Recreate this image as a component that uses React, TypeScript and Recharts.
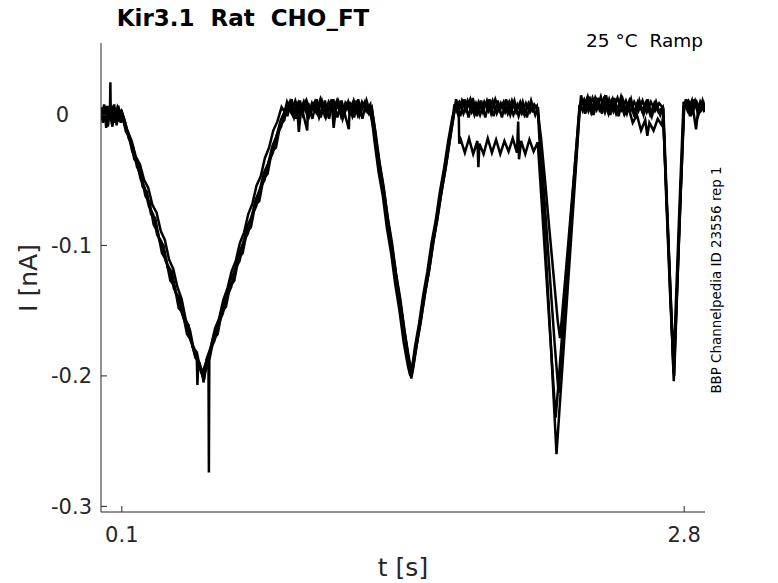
import React from 'react';
import { LineChart, Line, XAxis, YAxis } from 'recharts';

// ─────────────────────────────────────────────
// DATA (t in s, I in nA)
// ─────────────────────────────────────────────

const X_TICKS = [0.1, 2.8];
const Y_TICKS = [0, -0.1, -0.2, -0.3];
const X_DOMAIN: [number, number] = [0, 2.9];
const Y_DOMAIN: [number, number] = [-0.3043, 0.0551];

// sweep 1: upper plateaus, deepest third dip
const SWEEP_1: [number, number][] = [
  [0, 0.001], [0.01, -0.006], [0.02, 0.005], [0.03, -0.004], [0.04, 0.006], [0.043, 0.004], [0.045, 0.025],
  [0.047, -0.002], [0.06, 0.004], [0.07, -0.005], [0.08, 0.006], [0.09, 0.003], [0.1, 0.001],
  [0.12, -0.013], [0.14, -0.018], [0.16, -0.034], [0.18, -0.038], [0.2, -0.055], [0.22, -0.059],
  [0.24, -0.076], [0.26, -0.079], [0.28, -0.096], [0.3, -0.1], [0.32, -0.117], [0.34, -0.12],
  [0.36, -0.137], [0.38, -0.141], [0.4, -0.158], [0.42, -0.161], [0.44, -0.178], [0.46, -0.182],
  [0.48, -0.197], [0.49, -0.201], [0.5, -0.196], [0.51, -0.192], [0.516, -0.19], [0.518, -0.274],
  [0.52, -0.188], [0.54, -0.172], [0.56, -0.168], [0.58, -0.151], [0.6, -0.147], [0.62, -0.131],
  [0.64, -0.127], [0.66, -0.11], [0.68, -0.106], [0.7, -0.09], [0.72, -0.086], [0.74, -0.069],
  [0.76, -0.066], [0.78, -0.049], [0.8, -0.045], [0.82, -0.028], [0.84, -0.025], [0.86, -0.008],
  [0.88, -0.004], [0.89, 0.004],
  [0.9, 0.008], [0.92, 0.0], [0.94, 0.009], [0.95, -0.013], [0.96, 0.003], [0.98, 0.01], [1.0, -0.001],
  [1.02, 0.008], [1.04, 0.001], [1.06, 0.011], [1.08, -0.002], [1.1, 0.007], [1.12, 0.0], [1.14, 0.01],
  [1.16, -0.003], [1.18, 0.008], [1.2, 0.001], [1.22, 0.009], [1.24, -0.001], [1.26, 0.008],
  [1.28, 0.002], [1.3, 0.006],
  [1.32, -0.018], [1.34, -0.04], [1.36, -0.06], [1.38, -0.083], [1.4, -0.104], [1.42, -0.126],
  [1.44, -0.147], [1.46, -0.17], [1.48, -0.19], [1.49, -0.202],
  [1.5, -0.193], [1.52, -0.172], [1.54, -0.153], [1.56, -0.133], [1.58, -0.114], [1.6, -0.093],
  [1.62, -0.074], [1.64, -0.054], [1.66, -0.035], [1.68, -0.014], [1.7, 0.006],
  [1.72, 0.01], [1.74, 0.001], [1.76, 0.011], [1.78, 0.002], [1.8, 0.009], [1.82, 0.0], [1.84, 0.01],
  [1.86, 0.003], [1.88, 0.011], [1.9, 0.001], [1.92, 0.009], [1.94, 0.002], [1.96, 0.01], [1.98, 0.0],
  [2.0, 0.008], [2.02, 0.001], [2.04, 0.009], [2.06, 0.002], [2.08, 0.008], [2.097, 0.004],
  [2.12, -0.06], [2.14, -0.118], [2.16, -0.176], [2.18, -0.238], [2.187, -0.26],
  [2.2, -0.229], [2.22, -0.182], [2.24, -0.135], [2.26, -0.088], [2.28, -0.041], [2.299, 0.006],
  [2.32, 0.012], [2.34, 0.003], [2.36, 0.013], [2.38, 0.004], [2.4, 0.014], [2.42, 0.002], [2.44, 0.012],
  [2.46, 0.003], [2.48, 0.013], [2.5, 0.004], [2.52, 0.011], [2.54, 0.002], [2.56, 0.01], [2.58, 0.003],
  [2.6, 0.011], [2.62, 0.002], [2.64, 0.01], [2.66, 0.003], [2.68, 0.009], [2.7, 0.005],
  [2.72, -0.078], [2.74, -0.16], [2.75, -0.204], [2.76, -0.16], [2.78, -0.075], [2.8, 0.008],
  [2.82, 0.011], [2.84, 0.002], [2.86, 0.01], [2.88, 0.003], [2.9, 0.008],
];

// sweep 2: drops to the lower plateau after the second rise
const SWEEP_2: [number, number][] = [
  [0.007, -0.004], [0.017, 0.006], [0.027, -0.008], [0.037, 0.005], [0.047, -0.002], [0.057, 0.007],
  [0.067, -0.006], [0.077, 0.004], [0.087, -0.005], [0.097, 0.004], [0.105, 0.0],
  [0.127, -0.012], [0.147, -0.02], [0.167, -0.032], [0.187, -0.038], [0.207, -0.05], [0.227, -0.056],
  [0.247, -0.069], [0.267, -0.075], [0.287, -0.089], [0.307, -0.096], [0.327, -0.111], [0.347, -0.118],
  [0.367, -0.132], [0.387, -0.141], [0.407, -0.157], [0.427, -0.165], [0.447, -0.181], [0.46, -0.187],
  [0.463, -0.207], [0.467, -0.189], [0.48, -0.196], [0.497, -0.2],
  [0.507, -0.187], [0.527, -0.178], [0.547, -0.164], [0.567, -0.156], [0.587, -0.142], [0.607, -0.133],
  [0.627, -0.12], [0.647, -0.112], [0.667, -0.098], [0.687, -0.09], [0.707, -0.076], [0.727, -0.068],
  [0.747, -0.054], [0.767, -0.047], [0.787, -0.033], [0.807, -0.025], [0.827, -0.012], [0.847, -0.005],
  [0.867, 0.006], [0.887, 0.001], [0.907, 0.01], [0.927, -0.002], [0.947, 0.009], [0.967, 0.0],
  [0.987, 0.011], [1.007, 0.002], [1.027, 0.01], [1.047, -0.002], [1.067, 0.008], [1.087, 0.001],
  [1.107, 0.012], [1.117, -0.01], [1.127, 0.004], [1.147, 0.009], [1.167, 0.0], [1.187, 0.01],
  [1.207, -0.001], [1.227, 0.009], [1.247, 0.002], [1.267, 0.01], [1.287, 0.001], [1.3, 0.005],
  [1.317, -0.012], [1.337, -0.036], [1.357, -0.055], [1.377, -0.079], [1.397, -0.098], [1.417, -0.122],
  [1.437, -0.141], [1.457, -0.165], [1.477, -0.185], [1.492, -0.198], [1.497, -0.19],
  [1.507, -0.178], [1.527, -0.16], [1.547, -0.138], [1.567, -0.12], [1.587, -0.098], [1.607, -0.081],
  [1.627, -0.059], [1.647, -0.041], [1.667, -0.02], [1.687, -0.002], [1.7, 0.004], [1.717, 0.008],
  [1.72, -0.022], [1.727, -0.019], [1.747, -0.029], [1.767, -0.018], [1.787, -0.03], [1.807, -0.02],
  [1.812, -0.04], [1.817, -0.022], [1.837, -0.03], [1.857, -0.018], [1.877, -0.029], [1.897, -0.019],
  [1.917, -0.03], [1.937, -0.02], [1.957, -0.028], [1.977, -0.018], [1.997, -0.029], [2.003, -0.005],
  [2.007, -0.034], [2.017, -0.02], [2.037, -0.03], [2.057, -0.019], [2.077, -0.028], [2.097, -0.021],
  [2.117, -0.07], [2.137, -0.12], [2.157, -0.17], [2.177, -0.218], [2.183, -0.232],
  [2.197, -0.205], [2.217, -0.162], [2.237, -0.12], [2.257, -0.077], [2.277, -0.035], [2.297, 0.006],
  [2.317, 0.004], [2.337, 0.014], [2.357, 0.002], [2.377, 0.012], [2.397, 0.005], [2.417, 0.013],
  [2.437, 0.001], [2.457, 0.012], [2.477, 0.002], [2.497, 0.014], [2.517, 0.003], [2.537, 0.011],
  [2.557, 0.001], [2.577, 0.01], [2.597, 0.003], [2.617, 0.01], [2.637, 0.0], [2.657, 0.009],
  [2.677, 0.002], [2.697, 0.006],
  [2.717, -0.07], [2.737, -0.145], [2.748, -0.19], [2.757, -0.158], [2.777, -0.072], [2.797, 0.01],
  [2.817, 0.003], [2.837, 0.011], [2.857, -0.011], [2.867, 0.004], [2.877, 0.01], [2.897, 0.002],
];

// sweep 3: shallow third dip, sagging fourth plateau
const SWEEP_3: [number, number][] = [
  [0.003, 0.006], [0.013, -0.005], [0.023, 0.007], [0.033, -0.009], [0.043, 0.004], [0.053, -0.004],
  [0.063, 0.008], [0.073, -0.003], [0.083, 0.007], [0.093, -0.004], [0.1, 0.002],
  [0.113, -0.004], [0.133, -0.018], [0.153, -0.024], [0.173, -0.04], [0.193, -0.046], [0.213, -0.062],
  [0.233, -0.067], [0.253, -0.084], [0.273, -0.09], [0.293, -0.106], [0.313, -0.111], [0.333, -0.127],
  [0.353, -0.131], [0.373, -0.148], [0.393, -0.152], [0.413, -0.168], [0.433, -0.173], [0.453, -0.186],
  [0.473, -0.19], [0.487, -0.198],
  [0.503, -0.19], [0.523, -0.181], [0.543, -0.168], [0.563, -0.16], [0.583, -0.147], [0.603, -0.139],
  [0.623, -0.126], [0.643, -0.119], [0.663, -0.106], [0.683, -0.098], [0.703, -0.085], [0.723, -0.078],
  [0.743, -0.065], [0.763, -0.057], [0.783, -0.044], [0.803, -0.037], [0.823, -0.024], [0.843, -0.016],
  [0.863, -0.004], [0.883, 0.003], [0.893, 0.01],
  [0.913, 0.002], [0.933, 0.011], [0.953, 0.001], [0.973, 0.01], [0.993, -0.002], [1.013, 0.009],
  [1.033, 0.002], [1.053, 0.012], [1.073, 0.0], [1.093, 0.01], [1.113, 0.003], [1.133, 0.011],
  [1.153, -0.001], [1.173, 0.009], [1.193, 0.002], [1.213, 0.011], [1.233, 0.0], [1.253, 0.01],
  [1.273, 0.003], [1.293, 0.008],
  [1.313, -0.02], [1.333, -0.044], [1.353, -0.062], [1.373, -0.087], [1.393, -0.106], [1.413, -0.13],
  [1.433, -0.15], [1.453, -0.174], [1.473, -0.192], [1.485, -0.2],
  [1.503, -0.186], [1.523, -0.168], [1.543, -0.146], [1.563, -0.128], [1.583, -0.106], [1.603, -0.089],
  [1.623, -0.067], [1.643, -0.049], [1.663, -0.027], [1.683, -0.009], [1.697, 0.008],
  [1.713, 0.001], [1.733, 0.011], [1.753, 0.003], [1.773, 0.012], [1.793, 0.0], [1.813, 0.01],
  [1.833, 0.002], [1.853, 0.011], [1.873, 0.001], [1.893, 0.012], [1.913, 0.003], [1.933, 0.01],
  [1.953, 0.001], [1.973, 0.011], [1.993, 0.002], [2.013, 0.01], [2.033, 0.0], [2.053, 0.009],
  [2.073, 0.003], [2.093, 0.007],
  [2.113, -0.018], [2.133, -0.052], [2.153, -0.088], [2.173, -0.123], [2.193, -0.158], [2.204, -0.171],
  [2.213, -0.155], [2.233, -0.118], [2.253, -0.08], [2.273, -0.043], [2.293, -0.004], [2.3, 0.008],
  [2.313, 0.003], [2.333, 0.012], [2.353, 0.002], [2.373, 0.013], [2.393, 0.004], [2.413, 0.012],
  [2.433, 0.003], [2.453, 0.011], [2.473, 0.001], [2.493, 0.01], [2.513, 0.0], [2.533, 0.006],
  [2.553, -0.006], [2.573, 0.0], [2.593, -0.012], [2.613, -0.004], [2.623, -0.016], [2.633, -0.006],
  [2.653, -0.012], [2.673, -0.003], [2.693, -0.008], [2.7, 0.0],
  [2.713, -0.06], [2.733, -0.14], [2.752, -0.2], [2.763, -0.15], [2.783, -0.06], [2.8, 0.006],
  [2.813, 0.01], [2.833, 0.001], [2.853, 0.011], [2.873, 0.002], [2.893, 0.009], [2.9, 0.004],
];

// sweep 4: middle third dip, short downward spikes on the plateaus
const SWEEP_4: [number, number][] = [
  [0.005, -0.002], [0.015, 0.008], [0.025, -0.01], [0.035, 0.007], [0.055, -0.009], [0.065, 0.006],
  [0.075, -0.008], [0.085, 0.004], [0.095, -0.006], [0.102, 0.001],
  [0.11, -0.006], [0.13, -0.014], [0.15, -0.028], [0.17, -0.035], [0.19, -0.049], [0.21, -0.056],
  [0.23, -0.07], [0.25, -0.076], [0.27, -0.092], [0.29, -0.097], [0.31, -0.112], [0.33, -0.118],
  [0.35, -0.133], [0.37, -0.139], [0.39, -0.153], [0.41, -0.16], [0.43, -0.173], [0.45, -0.18],
  [0.47, -0.192], [0.485, -0.196], [0.492, -0.205],
  [0.505, -0.193], [0.525, -0.18], [0.545, -0.173], [0.565, -0.16], [0.585, -0.152], [0.605, -0.139],
  [0.625, -0.132], [0.645, -0.118], [0.665, -0.112], [0.685, -0.097], [0.705, -0.091], [0.725, -0.077],
  [0.745, -0.07], [0.765, -0.056], [0.785, -0.05], [0.805, -0.036], [0.825, -0.029], [0.845, -0.015],
  [0.865, -0.009], [0.885, 0.005],
  [0.895, -0.001], [0.915, 0.012], [0.935, -0.003], [0.955, 0.011], [0.975, -0.002], [0.99, -0.012],
  [0.995, 0.009], [1.015, -0.003], [1.035, 0.012], [1.055, -0.002], [1.075, 0.011], [1.095, -0.003],
  [1.115, 0.012], [1.135, -0.002], [1.155, 0.011], [1.175, -0.002], [1.19, -0.011], [1.195, 0.01],
  [1.215, -0.002], [1.235, 0.012], [1.255, -0.003], [1.275, 0.011], [1.295, 0.0],
  [1.31, -0.012], [1.33, -0.032], [1.35, -0.054], [1.37, -0.074], [1.39, -0.097], [1.41, -0.116],
  [1.43, -0.139], [1.45, -0.158], [1.47, -0.181], [1.488, -0.198],
  [1.495, -0.196], [1.515, -0.177], [1.535, -0.159], [1.555, -0.137], [1.575, -0.12], [1.595, -0.098],
  [1.615, -0.08], [1.635, -0.059], [1.655, -0.041], [1.675, -0.019], [1.695, 0.001],
  [1.705, 0.012], [1.725, -0.001], [1.745, 0.012], [1.765, -0.002], [1.785, 0.013], [1.805, -0.001],
  [1.825, 0.011], [1.845, -0.002], [1.865, 0.012], [1.885, -0.001], [1.905, 0.011], [1.925, -0.002],
  [1.945, 0.012], [1.965, 0.0], [1.985, 0.011], [2.005, -0.001], [2.025, 0.01], [2.045, -0.002],
  [2.065, 0.011], [2.085, 0.0], [2.098, 0.006],
  [2.118, -0.04], [2.138, -0.085], [2.158, -0.13], [2.178, -0.175], [2.197, -0.213],
  [2.207, -0.19], [2.227, -0.148], [2.247, -0.106], [2.267, -0.063], [2.287, -0.021], [2.298, 0.004],
  [2.305, 0.015], [2.325, 0.001], [2.345, 0.014], [2.365, 0.0], [2.385, 0.013], [2.405, 0.001],
  [2.425, 0.015], [2.445, 0.0], [2.465, 0.013], [2.485, -0.001], [2.505, 0.012], [2.525, 0.001],
  [2.545, 0.012], [2.565, -0.002], [2.585, 0.011], [2.605, 0.0], [2.625, 0.012], [2.645, -0.001],
  [2.665, 0.01], [2.685, 0.0], [2.698, 0.006],
  [2.718, -0.075], [2.738, -0.155], [2.749, -0.198], [2.758, -0.165], [2.778, -0.08], [2.798, 0.004],
  [2.808, 0.012], [2.828, -0.001], [2.848, 0.012], [2.868, 0.0], [2.888, 0.011], [2.9, 0.003],
];

const SWEEPS = [SWEEP_1, SWEEP_2, SWEEP_3, SWEEP_4];

const TEXT = '#262626';
const FONT = '"DejaVu Sans", sans-serif';

function XTick({ x, y, payload }: any) {
  return (
    <g>
      <line x1={x} y1={y} x2={x} y2={y - 6} stroke={TEXT} strokeWidth={1} />
      <text x={x} y={y + 30} textAnchor="middle" fill={TEXT} fontSize={21} fontFamily={FONT}>
        {payload.value}
      </text>
    </g>
  );
}

function YTick({ x, y, payload }: any) {
  const v = payload.value;
  return (
    <g>
      <line x1={x} y1={y} x2={x + 6} y2={y} stroke={TEXT} strokeWidth={1} />
      <text
        x={v === 0 ? x - 32 : x - 9}
        y={y}
        dy="0.36em"
        textAnchor="end"
        fill={TEXT}
        fontSize={21}
        fontFamily={FONT}
      >
        {v}
      </text>
    </g>
  );
}

export default function App() {
  return (
    <div style={{ position: 'absolute', left: 0, top: 0, width: 778, height: 583, background: '#fff' }}>
      <LineChart width={778} height={583} margin={{ top: 43, right: 73, bottom: 0, left: 0 }}>
        <XAxis
          type="number"
          dataKey="t"
          domain={X_DOMAIN}
          ticks={X_TICKS}
          allowDataOverflow
          height={71}
          tickSize={0}
          tickMargin={0}
          tickLine={false}
          axisLine={{ stroke: TEXT, strokeWidth: 1 }}
          tick={<XTick />}
        />
        <YAxis
          type="number"
          domain={Y_DOMAIN}
          ticks={Y_TICKS}
          allowDataOverflow
          width={101}
          tickSize={0}
          tickMargin={0}
          tickLine={false}
          axisLine={{ stroke: TEXT, strokeWidth: 1 }}
          tick={<YTick />}
        />
        {SWEEPS.map((sweep, k) => (
          <Line
            key={k}
            data={sweep.map(([t, i]) => ({ t, i }))}
            dataKey="i"
            type="linear"
            stroke="#000"
            strokeWidth={2.5}
            strokeLinejoin="miter"
            dot={false}
            isAnimationActive={false}
          />
        ))}
      </LineChart>
      <svg
        width={778}
        height={583}
        style={{ position: 'absolute', left: 0, top: 0, pointerEvents: 'none' }}
        fontFamily={FONT}
      >
        <text
          x={243}
          y={26}
          textAnchor="middle"
          fontSize={23}
          fontWeight="bold"
          fill="#000"
          style={{ whiteSpace: 'pre' }}
        >
          {'Kir3.1  Rat  CHO_FT'}
        </text>
        <text x={703} y={47} textAnchor="end" fontSize={18.5} fill="#000" style={{ whiteSpace: 'pre' }}>
          {'25 °C  Ramp'}
        </text>
        <text x={403} y={576} textAnchor="middle" fontSize={25} fill={TEXT}>
          t [s]
        </text>
        <text
          x={0}
          y={0}
          transform="translate(37 278) rotate(-90)"
          textAnchor="middle"
          fontSize={25}
          fill={TEXT}
        >
          I [nA]
        </text>
        <text
          x={0}
          y={0}
          transform="translate(721 280) rotate(-90)"
          textAnchor="middle"
          fontSize={13.4}
          fill="#000"
        >
          BBP Channelpedia ID 23556 rep 1
        </text>
      </svg>
    </div>
  );
}
